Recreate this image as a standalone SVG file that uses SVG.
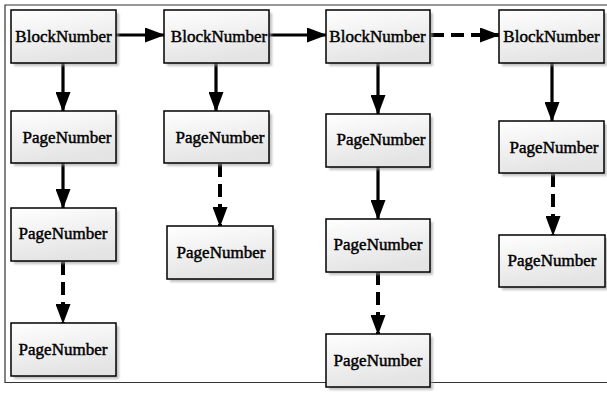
<svg xmlns="http://www.w3.org/2000/svg" width="607" height="394" viewBox="0 0 607 394">
<defs>
<linearGradient id="g" x1="0" y1="0" x2="0.3" y2="1">
<stop offset="0" stop-color="#ffffff"/>
<stop offset="1" stop-color="#e4e4e4"/>
</linearGradient>
<filter id="sh" x="-10%" y="-10%" width="130%" height="130%">
<feGaussianBlur stdDeviation="1.2"/>
</filter>
<marker id="ah" viewBox="0 0 20 15" refX="19" refY="7.5" markerWidth="20" markerHeight="15" markerUnits="userSpaceOnUse" orient="auto">
<path d="M0,0 L20,7.5 L0,15 Z" fill="#000"/>
</marker>
</defs>
<style>
.box{fill:url(#g);stroke:#000;stroke-width:1.5}
.shd{fill:#9a9a9a;opacity:0.6;filter:url(#sh)}
.t{font-family:"Liberation Serif","Times New Roman",serif;font-size:17px;text-anchor:middle;fill:#000;stroke:#000;stroke-width:0.45}
.c{fill:none;stroke:#000;stroke-width:3.2;marker-end:url(#ah)}
.d{stroke-dasharray:13 7;stroke-width:4}
.frame{fill:none;stroke:#333;stroke-width:1.2}
</style>
<rect width="607" height="394" fill="#fff"/>
<path class="frame" d="M612,5 H5 V382.5 H612"/>

<g id="connectors">
<path class="c" d="M116,35 H164"/>
<path class="c" d="M269,35 H326"/>
<path class="c d" d="M431,35 H499"/>
<path class="c" d="M63,63 V111"/>
<path class="c" d="M63,163 V208"/>
<path class="c d" d="M63,262 V323"/>
<path class="c" d="M216,63 V111"/>
<path class="c d" d="M220,164 V226"/>
<path class="c" d="M378,63 V114"/>
<path class="c" d="M378,167 V219"/>
<path class="c d" d="M378,272 V334"/>
<path class="c" d="M552,63 V121"/>
<path class="c d" d="M553,174 V235"/>
</g>

<g id="b1"><rect class="shd" x="14" y="13" width="105" height="53"/><rect class="box" x="11" y="10" width="105" height="53"/><text class="t" x="63.5" y="41.5">BlockNumber</text></g>
<g id="p1a"><rect class="shd" x="14" y="114" width="105" height="52"/><rect class="box" x="11" y="111" width="105" height="52"/><text class="t" x="67" y="142.5">PageNumber</text></g>
<g id="p1b"><rect class="shd" x="14" y="211" width="105" height="53"/><rect class="box" x="11" y="208" width="105" height="53"/><text class="t" x="63" y="239">PageNumber</text></g>
<g id="p1c"><rect class="shd" x="14" y="326" width="105" height="53"/><rect class="box" x="11" y="323" width="105" height="53"/><text class="t" x="63" y="355">PageNumber</text></g>

<g id="b2"><rect class="shd" x="167" y="13" width="105" height="53"/><rect class="box" x="164" y="10" width="105" height="53"/><text class="t" x="219" y="41.5">BlockNumber</text></g>
<g id="p2a"><rect class="shd" x="167" y="114" width="105" height="52"/><rect class="box" x="164" y="111" width="105" height="52"/><text class="t" x="220" y="142.5">PageNumber</text></g>
<g id="p2b"><rect class="shd" x="170" y="229" width="106" height="53"/><rect class="box" x="167" y="226" width="106" height="53"/><text class="t" x="221" y="257.5">PageNumber</text></g>

<g id="b3"><rect class="shd" x="329" y="13" width="104" height="53"/><rect class="box" x="326" y="10" width="104" height="53"/><text class="t" x="377.5" y="41.5">BlockNumber</text></g>
<g id="p3a"><rect class="shd" x="329" y="117" width="104" height="53"/><rect class="box" x="326" y="114" width="104" height="53"/><text class="t" x="381" y="145">PageNumber</text></g>
<g id="p3b"><rect class="shd" x="329" y="222" width="104" height="53"/><rect class="box" x="326" y="219" width="104" height="53"/><text class="t" x="378" y="250">PageNumber</text></g>
<g id="p3c"><rect class="shd" x="329" y="337" width="104" height="53"/><rect class="box" x="326" y="334" width="104" height="53"/><text class="t" x="378" y="365.5">PageNumber</text></g>

<g id="b4"><rect class="shd" x="502" y="13" width="105" height="53"/><rect class="box" x="499" y="10" width="105" height="53"/><text class="t" x="551.5" y="41.5">BlockNumber</text></g>
<g id="p4a"><rect class="shd" x="502" y="124" width="105" height="52"/><rect class="box" x="499" y="121" width="105" height="52"/><text class="t" x="554" y="152.5">PageNumber</text></g>
<g id="p4b"><rect class="shd" x="502" y="238" width="106" height="52"/><rect class="box" x="499" y="235" width="106" height="52"/><text class="t" x="552" y="266">PageNumber</text></g>
</svg>
